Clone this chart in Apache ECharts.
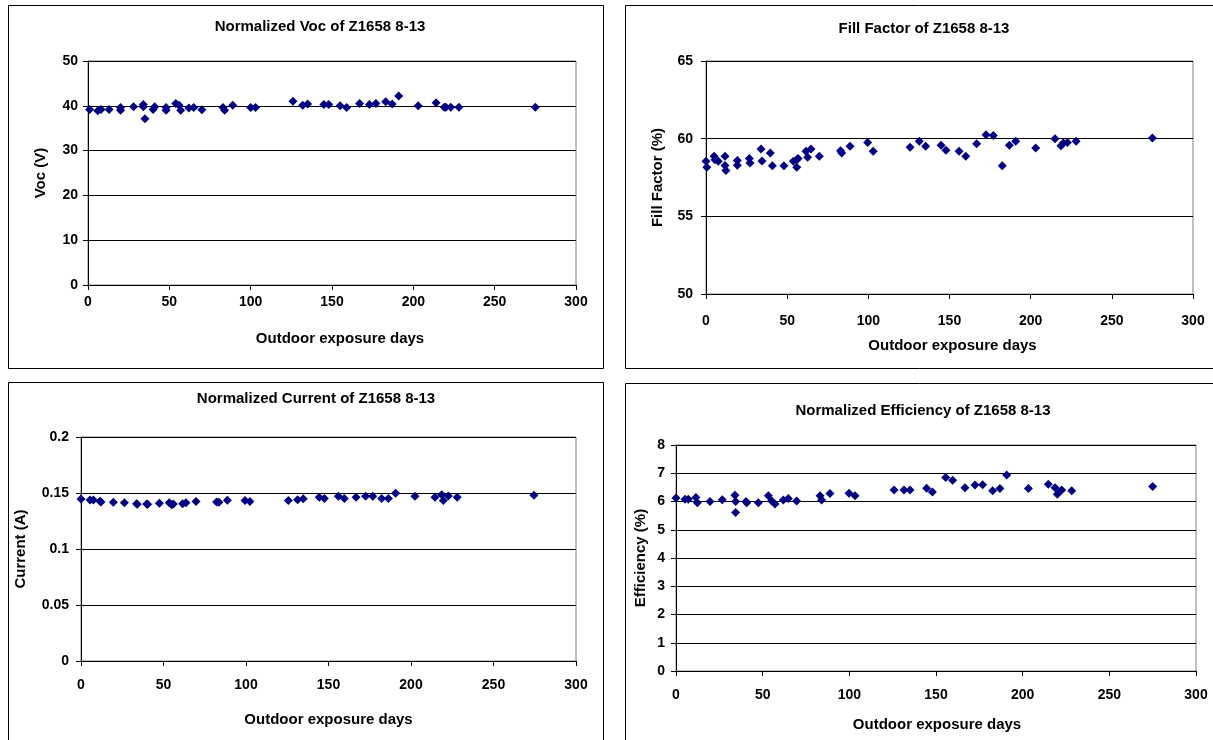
<!DOCTYPE html>
<html>
<head>
<meta charset="utf-8">
<script src="https://cdn.jsdelivr.net/npm/echarts@6/dist/echarts.min.js"></script>
<style>
html,body{margin:0;padding:0;background:#fff;}
#c{width:1213px;height:740px;}
</style>
</head>
<body>
<div id="c"></div>
<script>
// ---- Data ----
var titles = ['Normalized Voc of Z1658 8-13', 'Fill Factor of Z1658 8-13', 'Normalized Current of Z1658 8-13', 'Normalized Efficiency of Z1658 8-13'];
var xAxisName = 'Outdoor exposure days';
var yAxisNames = ['Voc (V)', 'Fill Factor (%)', 'Current (A)', 'Efficiency (%)'];

var vocDays = [1,6,8,13,20,20,28,34,34,35,40,41,48,48,54,56,57,62,65,70,83,84,89,100,103,126,132,135,145,148,155,159,167,173,177,183,187,191,203,214,219,220,223,228,275];
var vocValues = [39.2,38.9,39.2,39.2,39.6,39.0,39.8,40.3,39.8,37.1,39.2,39.8,39.6,39.0,40.5,40.1,39.0,39.5,39.6,39.1,39.6,39.0,40.1,39.6,39.6,41.0,40.1,40.4,40.3,40.3,40.0,39.6,40.5,40.3,40.5,40.9,40.4,42.2,40.0,40.7,39.7,39.7,39.7,39.7,39.7];

var ffDays = [0,0.5,5,5.5,7.6,11.7,11.7,12.3,19.3,19.3,26.7,27.1,33.9,34.5,39.6,40.9,48,53.8,55.9,55.9,56.7,61.6,62.6,64.7,69.8,82.9,83.6,88.7,99.6,103,125.7,131.4,135.3,144.8,147.8,155.9,160,166.7,172.5,177,182.5,186.9,190.8,203.1,215,218.7,220.1,222.6,228,275];
var ffValues = [58.55,58.16,58.87,58.65,58.55,58.87,58.27,57.95,58.59,58.29,58.72,58.44,59.34,58.57,59.08,58.25,58.25,58.55,58.65,58.16,58.72,59.19,58.8,59.34,58.87,59.23,59.08,59.51,59.76,59.19,59.44,59.83,59.51,59.57,59.25,59.19,58.87,59.68,60.26,60.21,58.25,59.57,59.83,59.4,60.0,59.55,59.72,59.76,59.83,60.04];

var curDays = [0,5.5,7.5,11.5,12.1,19.6,26.3,33.7,34.1,39.8,40.4,47.5,53.5,55,56,61.6,63.6,69.7,82.2,83.6,88.7,99.4,102.4,125.7,131.3,134.7,144.4,147.5,156,159.6,166.7,172.5,176.8,182.2,186.3,190.7,202.4,214.5,218.6,219.6,222.6,228,274.5];
var curValues = [0.1446,0.1437,0.1437,0.1426,0.142,0.1417,0.1414,0.1405,0.1399,0.1402,0.1399,0.1408,0.1414,0.1396,0.1402,0.1405,0.1414,0.1423,0.142,0.1417,0.1435,0.1432,0.1423,0.1432,0.144,0.1449,0.1461,0.1452,0.147,0.1452,0.1461,0.147,0.147,0.1452,0.1452,0.1497,0.147,0.1461,0.1485,0.1432,0.1473,0.1461,0.1479];

var effDays = [0,5.2,7.1,11.5,12.3,19.6,26.7,34,34.4,34.4,40.4,40.8,47.5,53.3,55.2,57.1,61.9,64.8,69.6,83.1,84,88.8,99.8,103.3,125.8,131.5,135,144.6,147.9,155.6,159.6,166.7,172.5,176.9,182.7,186.9,190.8,203.3,214.8,218.7,220,222.5,228.3,275];
var effValues = [6.12,6.08,6.08,6.14,5.96,6.0,6.06,6.22,6.0,5.61,6.0,5.96,5.96,6.2,6.02,5.91,6.05,6.11,6.02,6.2,6.05,6.28,6.29,6.2,6.41,6.41,6.41,6.47,6.34,6.85,6.75,6.49,6.58,6.59,6.38,6.46,6.94,6.46,6.61,6.49,6.26,6.41,6.38,6.53];

var xTicks = {min: 0, max: 300, interval: 50};
var yScales = [
  {min: 0, max: 50, interval: 10},
  {min: 50, max: 65, interval: 5},
  {min: 0, max: 0.2, interval: 0.05},
  {min: 0, max: 8, interval: 1}
];

// ---- Layout ----
var FONT = '"Liberation Sans", Arial, sans-serif';
var grids = [
  {left: 88, top: 61, width: 488, height: 224},
  {left: 706, top: 61, width: 487, height: 233},
  {left: 81, top: 437, width: 495, height: 224},
  {left: 676, top: 445, width: 520, height: 226}
];
var xLabelMargins = [10, 20, 17, 17];
var xNameGaps = [46, 44, 51, 46];
var xNamePad = [[0, 0, 0, 16], [0, 0, 0, 6], [0, 0, 0, 0], [0, 0, 0, 2]];
var yLabelMargins = [10, 13, 12, 11];
var yNameGaps = [40, 41, 53, 28];
var titlePos = [[320, 19], [924, 21], [316, 391], [923, 403]];

var seriesDays = [vocDays, ffDays, curDays, effDays];
var seriesVals = [vocValues, ffValues, curValues, effValues];

function pairs(xs, ys) {
  return xs.map(function (x, i) { return [x, ys[i]]; });
}

var option = {
  animation: false,
  backgroundColor: '#fff',
  title: titles.map(function (t, i) {
    return {
      text: t, left: titlePos[i][0], top: titlePos[i][1], textAlign: 'center', padding: 0,
      textStyle: {fontFamily: FONT, fontSize: 15, fontWeight: 'bold', color: '#000'}
    };
  }),
  graphic: [
    {type: 'rect', shape: {x: 8.5, y: 5.5, width: 595, height: 363}, style: {fill: 'none', stroke: '#000', lineWidth: 1}, silent: true},
    {type: 'rect', shape: {x: 625.5, y: 5.5, width: 620, height: 363}, style: {fill: 'none', stroke: '#000', lineWidth: 1}, silent: true},
    {type: 'rect', shape: {x: 8.5, y: 382.5, width: 595, height: 400}, style: {fill: 'none', stroke: '#000', lineWidth: 1}, silent: true},
    {type: 'rect', shape: {x: 625.5, y: 383.5, width: 620, height: 400}, style: {fill: 'none', stroke: '#000', lineWidth: 1}, silent: true}
  ],
  grid: grids.map(function (g) {
    return {left: g.left, top: g.top, width: g.width, height: g.height, show: true, borderColor: '#808080', borderWidth: 1, backgroundColor: 'transparent', containLabel: false};
  }),
  xAxis: grids.map(function (g, i) {
    return {
      type: 'value', gridIndex: i, min: xTicks.min, max: xTicks.max, interval: xTicks.interval,
      name: xAxisName, nameLocation: 'middle', nameGap: xNameGaps[i],
      nameTextStyle: {fontFamily: FONT, fontSize: 15, fontWeight: 'bold', color: '#000', padding: xNamePad[i]},
      axisLine: {show: true, onZero: false, lineStyle: {color: '#000', width: 1}},
      axisTick: {show: true, inside: false, length: 5, lineStyle: {color: '#000'}},
      axisLabel: {margin: xLabelMargins[i], fontFamily: FONT, fontSize: 14, fontWeight: 'bold', color: '#000'},
      splitLine: {show: false}
    };
  }),
  yAxis: grids.map(function (g, i) {
    return {
      type: 'value', gridIndex: i, min: yScales[i].min, max: yScales[i].max, interval: yScales[i].interval,
      name: yAxisNames[i], nameLocation: 'middle', nameGap: yNameGaps[i],
      nameTextStyle: {fontFamily: FONT, fontSize: 15, fontWeight: 'bold', color: '#000'},
      axisLine: {show: true, onZero: false, lineStyle: {color: '#000', width: 1}},
      axisTick: {show: true, inside: false, length: 5, lineStyle: {color: '#000'}},
      axisLabel: {margin: yLabelMargins[i], fontFamily: FONT, fontSize: 14, fontWeight: 'bold', color: '#000'},
      splitLine: {show: true, lineStyle: {color: '#000', width: 1}}
    };
  }),
  series: seriesDays.map(function (d, i) {
    return {
      type: 'scatter', xAxisIndex: i, yAxisIndex: i,
      symbol: 'diamond', symbolSize: 9,
      itemStyle: {color: '#000080', opacity: 1},
      data: pairs(d, seriesVals[i])
    };
  })
};

var chart = echarts.init(document.getElementById('c'), null, {renderer: 'canvas'});
chart.setOption(option);
</script>
</body>
</html>
